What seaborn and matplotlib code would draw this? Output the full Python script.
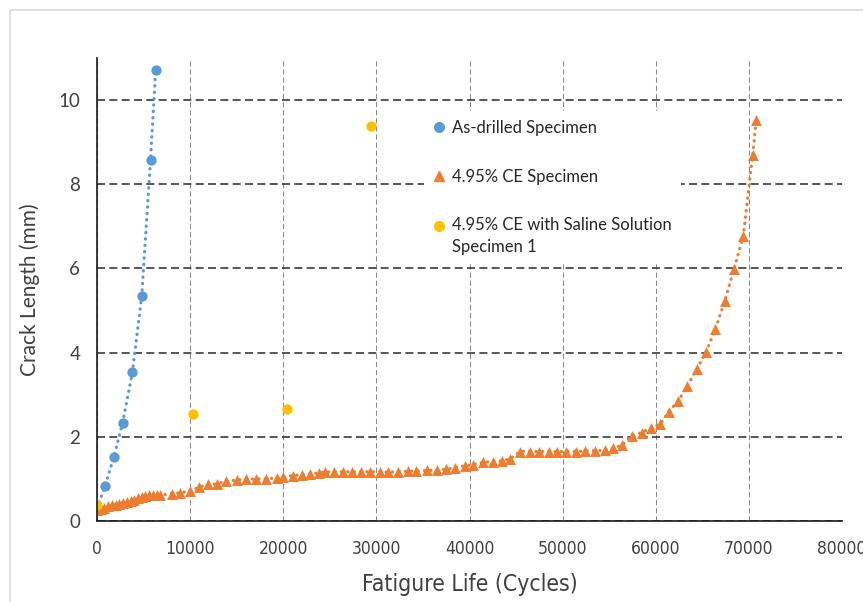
import matplotlib
matplotlib.use("Agg")
import matplotlib.pyplot as plt
from matplotlib.lines import Line2D
import pandas as pd
import seaborn as sns

# As-drilled specimen
drilled_cycles = [0, 850, 1800, 2750, 3800, 4800, 5750, 6300]
drilled_crack = [0.30, 0.82, 1.52, 2.33, 3.53, 5.34, 8.58, 10.72]

# 4.95% CE specimen
ce_cycles = [0, 400, 800, 1200, 1600, 2000, 2400, 2800, 3200, 3600, 4000, 4400,
             4800, 5200, 5600, 6000, 6400, 6800, 8000, 8900, 10000, 10900, 11950,
             12850, 13900, 15000, 16000, 17100, 18200, 19300, 20000, 21000, 22000,
             22900, 23800, 24500, 25400, 26400, 27400, 28400, 29300, 30400, 31300,
             32300, 33400, 34300, 35400, 36500, 37500, 38400, 39500, 40400, 41500,
             42500, 43500, 44400, 45400, 46500, 47500, 48500, 49400, 50400, 51400,
             52400, 53500, 54500, 55400, 56400, 57400, 58500, 59500, 60500, 61400,
             62400, 63400, 64400, 65400, 66400, 67400, 68400, 69400, 70400, 70800]
ce_crack = [0.25, 0.29, 0.32, 0.35, 0.37, 0.39, 0.41, 0.43, 0.45, 0.48, 0.51, 0.54,
            0.57, 0.60, 0.61, 0.61, 0.61, 0.61, 0.65, 0.67, 0.71, 0.80, 0.87,
            0.88, 0.95, 0.97, 0.99, 1.00, 1.00, 1.02, 1.04, 1.08, 1.10,
            1.12, 1.14, 1.16, 1.17, 1.17, 1.17, 1.17, 1.17, 1.17, 1.16,
            1.17, 1.18, 1.19, 1.20, 1.21, 1.23, 1.27, 1.31, 1.34, 1.40,
            1.41, 1.43, 1.48, 1.65, 1.65, 1.65, 1.65, 1.65, 1.65, 1.65,
            1.66, 1.67, 1.68, 1.74, 1.80, 2.02, 2.10, 2.21, 2.31, 2.60,
            2.85, 3.21, 3.61, 4.01, 4.56, 5.22, 5.98, 6.77, 8.69, 9.53]

# 4.95% CE with saline solution, specimen 1
saline_cycles = [0, 10300, 20400, 29400]
saline_crack = [0.38, 2.55, 2.65, 9.38]

series_labels = ["As-drilled Specimen", "4.95% CE Specimen",
                 "4.95% CE with Saline Solution\nSpecimen 1"]
x_ticks = [0, 10000, 20000, 30000, 40000, 50000, 60000, 70000, 80000]
y_ticks = [0, 2, 4, 6, 8, 10]

BLUE = "#5B9BD5"
ORANGE = "#ED7D31"
GOLD = "#FFC000"
TEXT = "#404040"

sns.set_theme(style="white")
plt.rcParams["font.family"] = ["Lato", "DejaVu Sans"]

drilled = pd.DataFrame({"cycles": drilled_cycles, "crack": drilled_crack})
ce = pd.DataFrame({"cycles": ce_cycles, "crack": ce_crack})
saline = pd.DataFrame({"cycles": saline_cycles, "crack": saline_crack})

fig = plt.figure(figsize=(8.63, 6.02), dpi=100)
ax = fig.add_axes([97 / 863, 1 - 521 / 602, 745 / 863, 463 / 602])

dot_style = dict(linestyle=(0, (0.1, 1.9)), dash_capstyle="round", linewidth=2.3)

# Dotted trend lines
sns.lineplot(data=drilled, x="cycles", y="crack", ax=ax, color=BLUE,
             estimator=None, sort=False, legend=False, zorder=3, **dot_style)
sns.lineplot(data=ce, x="cycles", y="crack", ax=ax, color=ORANGE,
             estimator=None, sort=False, legend=False, zorder=3, **dot_style)

# Measured points
sns.scatterplot(data=drilled, x="cycles", y="crack", ax=ax, color=BLUE,
                marker="o", s=55, linewidth=0, legend=False, zorder=4)
sns.scatterplot(data=ce, x="cycles", y="crack", ax=ax, color=ORANGE,
                marker="^", s=62, linewidth=0, legend=False, zorder=4)
sns.scatterplot(data=saline, x="cycles", y="crack", ax=ax, color=GOLD,
                marker="o", s=55, linewidth=0, legend=False, zorder=5)

narrow = dict(family="DejaVu Sans", stretch="condensed")

ax.set_xlim(0, 80000)
ax.set_ylim(0, 11)
ax.set_xticks(x_ticks)
ax.set_yticks(y_ticks)
ax.set_xticklabels([str(t) for t in x_ticks], fontsize=12.5, color=TEXT, **narrow)
ax.set_yticklabels([str(t) for t in y_ticks], fontsize=13.5, color=TEXT)
ax.tick_params(axis="x", length=0, pad=14)
ax.tick_params(axis="y", length=0, pad=12)

# Gridlines
ax.grid(False)
ax.yaxis.grid(True, color="#3a3a3a", linestyle=(0, (4.8, 2.6)), linewidth=1.2)
ax.xaxis.grid(True, color="#8a8a8a", linestyle=(0, (5, 2.8)), linewidth=0.75)
ax.set_axisbelow(True)

for side in ("top", "right"):
    ax.spines[side].set_visible(False)
for side in ("left", "bottom"):
    ax.spines[side].set_color("#1a1a1a")
    ax.spines[side].set_linewidth(1.2)
    ax.spines[side].set_zorder(6)

ax.set_xlabel("Fatigure Life (Cycles)", fontsize=16.5, color=TEXT, **narrow)
ax.xaxis.set_label_coords(0.5, -0.138)
ax.xaxis.label.set_va("center")
ax.set_ylabel("Crack Length (mm)", fontsize=15, color=TEXT)
ax.yaxis.set_label_coords(-0.09, 0.5)
ax.yaxis.label.set_va("center")

handles = [
    Line2D([], [], linestyle="none", marker="o", color=BLUE, markersize=7),
    Line2D([], [], linestyle="none", marker="^", color=ORANGE, markersize=7.5),
    Line2D([], [], linestyle="none", marker="o", color=GOLD, markersize=7),
]
leg = ax.legend(handles, series_labels, loc="upper left",
                bbox_to_anchor=(424 / 863, 1 - 111 / 602),
                bbox_transform=fig.transFigure, frameon=True, facecolor="white",
                edgecolor="none", framealpha=1, fancybox=False, fontsize=12,
                handlelength=0.7, handletextpad=0.45, labelspacing=1.95,
                borderpad=0.55, borderaxespad=0)
leg.set_zorder(7)
for t in leg.get_texts():
    t.set_color("#262626")
    t.set_linespacing(1.45)

# The two-line entry keeps its marker beside the first line
wrapped = leg.legend_handles[2]
wrapped.set_ydata([y + 7.8 for y in wrapped.get_ydata()])

# Light frame around the chart area
fig.add_artist(Line2D([10 / 863, 1], [1 - 10 / 602, 1 - 10 / 602],
                      transform=fig.transFigure, color="#d9d9d9", linewidth=1.2))
fig.add_artist(Line2D([10 / 863, 10 / 863], [0, 1 - 10 / 602],
                      transform=fig.transFigure, color="#d9d9d9", linewidth=1.2))

fig.savefig("out.png", dpi=100, facecolor="white")
